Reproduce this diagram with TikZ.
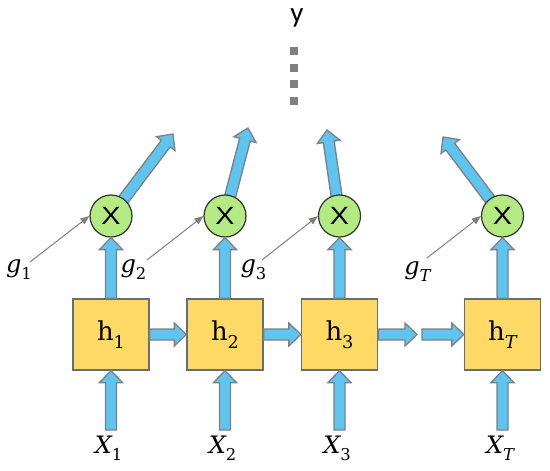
\documentclass[tikz,border=0pt]{standalone}
\usepackage{fontspec}
\newfontfamily\carlito{Carlito}
\newfontfamily\lsans{Liberation Sans}
\newfontfamily\dvserif{DejaVu Serif}
\usetikzlibrary{calc,arrows.meta,backgrounds}
\definecolor{arrowblue}{RGB}{94,196,240}
\definecolor{edgegray}{RGB}{128,128,128}
\definecolor{boxfill}{RGB}{255,217,102}
\definecolor{boxedge}{RGB}{100,110,120}
\definecolor{circfill}{RGB}{180,234,130}
\definecolor{circedge}{RGB}{50,50,50}
\newcommand\fs{5.5pt}
\newcommand\fhw{11.5pt}
\newcommand\fhl{12pt}
\newcommand\lab[2]{{#1}\raisebox{-0.3em}{\scalebox{0.68}{#2}}}
\newcommand\fatarrow[2]{%
  \filldraw[fatarr] ($(#1)!\fs!90:(#2)$)
    -- ($(#2)!\fhl!(#1)!\fs!-90:(#1)$)
    -- ($(#2)!\fhl!(#1)!\fhw!-90:(#1)$)
    -- (#2)
    -- ($(#2)!\fhl!(#1)!\fhw!90:(#1)$)
    -- ($(#2)!\fhl!(#1)!\fs!90:(#1)$)
    -- ($(#1)!\fs!-90:(#2)$) -- cycle;}
\begin{document}
\begin{tikzpicture}[x=1pt,y=-1pt,
  hbox/.style={draw=boxedge, fill=boxfill, line width=1.3pt, minimum width=76pt, minimum height=71pt, inner sep=0pt, font=\dvserif\fontsize{26}{28}\selectfont},
  mult/.style={circle, draw=circedge, fill=circfill, line width=1.2pt, minimum size=42pt, inner sep=0pt, font=\lsans\fontsize{25}{27}\selectfont},
  inlabel/.style={font=\dvserif\fontsize{24}{26}\selectfont, inner sep=1pt},
  dotsq/.style={fill=edgegray, minimum size=8pt, inner sep=0pt},
  fatarr/.style={fill=arrowblue, draw=edgegray, line width=1.3pt, line join=miter},
  gline/.style={draw=edgegray, line width=1pt, -{Triangle[length=9pt,width=7pt]}}]
\useasboundingbox (0,0) rectangle (550,471);
% output label and dots
\node[anchor=base, font=\carlito\fontsize{29}{32}\selectfont, inner sep=0pt] (y) at (297,23) {y};
\node[dotsq] (d1) at (294,51) {};
\node[dotsq] (d2) at (294,68) {};
\node[dotsq] (d3) at (294,84) {};
\node[dotsq] (d4) at (294,101) {};
% hidden state boxes
\node[hbox] (h1) at (111,334.5) {\lab{h}{1}};
\node[hbox] (h2) at (225,334.5) {\lab{h}{2}};
\node[hbox] (h3) at (339.5,334.5) {\lab{h}{3}};
\node[hbox] (hT) at (502.5,334.5) {\lab{h}{\itshape T}};
% multipliers
\node[mult] (c1) at (111,216) {\scalebox{1.15}[1]{X}};
\node[mult] (c2) at (225,216) {\scalebox{1.15}[1]{X}};
\node[mult] (c3) at (339.5,216) {\scalebox{1.15}[1]{X}};
\node[mult] (cT) at (502.5,216) {\scalebox{1.15}[1]{X}};
% inputs
\node[inlabel, anchor=base] (X1) at (108.5,453) {\lab{\itshape X}{1}};
\node[inlabel, anchor=base] (X2) at (222.5,453) {\lab{\itshape X}{2}};
\node[inlabel, anchor=base] (X3) at (337,453) {\lab{\itshape X}{3}};
\node[inlabel, anchor=base] (XT) at (500,453) {\lab{\itshape X}{\itshape T}};
\coordinate (b1) at (h1.south |- 0,430);
\coordinate (b2) at (h2.south |- 0,430);
\coordinate (b3) at (h3.south |- 0,430);
\coordinate (bT) at (hT.south |- 0,430);
% gates
\node[inlabel, anchor=base] (g1) at (19,272) {\lab{\itshape g}{1}};
\node[inlabel, anchor=base] (g2) at (133.5,272) {\lab{\itshape g}{2}};
\node[inlabel, anchor=base] (g3) at (253.5,272) {\lab{\itshape g}{3}};
\node[inlabel, anchor=base] (gT) at (417.5,274) {\lab{\itshape g}{\itshape T}};
\coordinate (gs1) at (30,262);
\coordinate (gs2) at (147,260);
\coordinate (gs3) at (262,260);
\coordinate (gsT) at (427,258);
% output tips and gap coordinates
\coordinate (o1) at (173,134);
\coordinate (o2) at (248,128);
\coordinate (o3) at (327,130);
\coordinate (oT) at (443,137);
\coordinate (m1) at (417,334.5);
\coordinate (m2) at (422,334.5);
\begin{pgfonlayer}{background}
\fatarrow{c1.center}{o1}
\fatarrow{c2.center}{o2}
\fatarrow{c3.center}{o3}
\fatarrow{cT.center}{oT}
\end{pgfonlayer}
\fatarrow{h1.north}{c1.south}
\fatarrow{h2.north}{c2.south}
\fatarrow{h3.north}{c3.south}
\fatarrow{hT.north}{cT.south}
\fatarrow{b1}{h1.south}
\fatarrow{b2}{h2.south}
\fatarrow{b3}{h3.south}
\fatarrow{bT}{hT.south}
\fatarrow{h1.east}{h2.west}
\fatarrow{h2.east}{h3.west}
\fatarrow{h3.east}{m1}
\fatarrow{m2}{hT.west}
\draw[gline] (gs1) -- (c1.west);
\draw[gline] (gs2) -- (c2.west);
\draw[gline] (gs3) -- (c3.west);
\draw[gline] (gsT) -- (cT.west);
\end{tikzpicture}
\end{document}
